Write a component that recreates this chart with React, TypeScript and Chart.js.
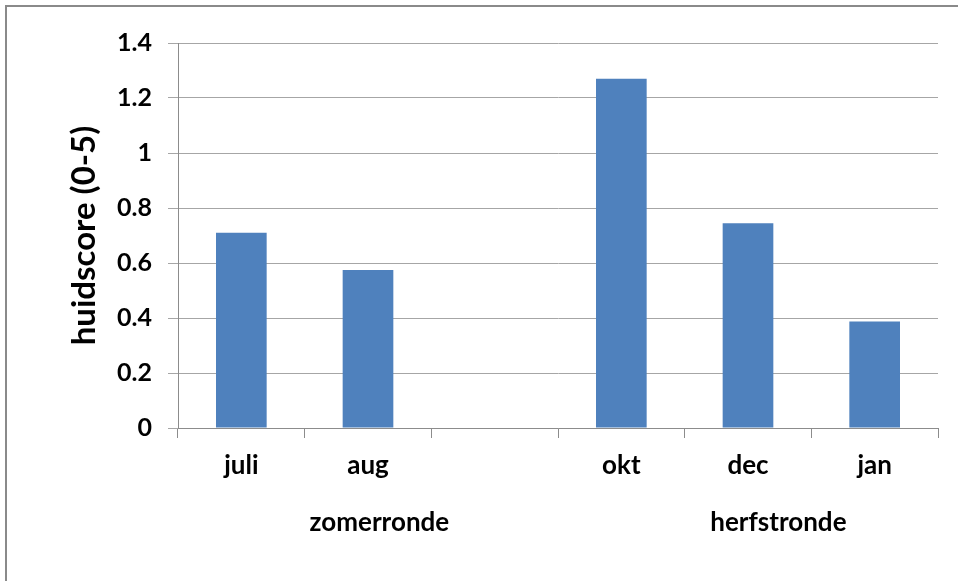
import React, { useEffect, useRef } from "react";
import { Chart, registerables } from "chart.js";

Chart.register(...registerables);

const categories = ["juli", "aug", "", "okt", "dec", "jan"];
const huidscore = [0.71, 0.575, null, 1.27, 0.745, 0.387];
const groupLabels = ["zomerronde", "herfstronde"];
const yTitle = "huidscore (0-5)";
const yMin = 0;
const yMax = 1.4;
const yStep = 0.2;

const FONT = "Lato, 'Open Sans', sans-serif";

export default function App() {
  const ref = useRef<HTMLCanvasElement>(null);

  useEffect(() => {
    document.body.style.margin = "0";
    const canvas = ref.current;
    if (!canvas) return;

    const groupPos = [1.09, 4.24];

    const framePlugin = {
      id: "frame",
      beforeDraw(chart: any) {
        const ctx = chart.ctx;
        ctx.save();
        ctx.strokeStyle = "#8a8a8a";
        ctx.lineWidth = 2;
        ctx.beginPath();
        ctx.moveTo(6, chart.height);
        ctx.lineTo(6, 6);
        ctx.lineTo(chart.width, 6);
        ctx.stroke();
        ctx.restore();
      },
    };

    const groupPlugin = {
      id: "groups",
      afterDraw(chart: any) {
        const ctx = chart.ctx;
        const xs = chart.scales.x;
        ctx.save();
        ctx.font = `bold 26px ${FONT}`;
        ctx.fillStyle = "#000";
        ctx.textAlign = "center";
        ctx.textBaseline = "middle";
        groupLabels.forEach((g, i) => {
          ctx.fillText(g, xs.getPixelForValue(groupPos[i]), 523);
        });
        ctx.restore();
      },
    };

    const chart = new Chart(canvas, {
      type: "bar",
      data: {
        labels: categories,
        datasets: [
          {
            data: huidscore as any,
            backgroundColor: "#4f81bd",
            borderWidth: 0,
            barPercentage: 0.4,
            categoryPercentage: 1,
          },
        ],
      },
      options: {
        responsive: false,
        animation: false,
        layout: { padding: { top: 43, right: 20, left: 0, bottom: 0 } },
        plugins: {
          legend: { display: false },
          tooltip: { enabled: false },
        },
        scales: {
          x: {
            afterFit(scale: any) {
              scale.height = 153;
            },
            grid: {
              display: true,
              drawOnChartArea: false,
              drawTicks: true,
              tickLength: 10,
              color: "#8c8c8c",
              offset: true,
            },
            border: { display: true, color: "#8c8c8c", width: 1 },
            ticks: {
              color: "#000",
              font: { family: FONT, size: 26, weight: "bold" },
              padding: 12,
              maxRotation: 0,
              autoSkip: false,
            },
          },
          y: {
            min: yMin,
            max: yMax,
            afterFit(scale: any) {
              scale.width = 178;
            },
            grid: {
              color: "#a6a6a6",
              drawTicks: true,
              tickLength: 10,
            },
            border: { display: true, color: "#8c8c8c", width: 1 },
            ticks: {
              stepSize: yStep,
              color: "#000",
              font: { family: FONT, size: 25, weight: "bold" },
              padding: 16,
              callback: (v: any) => String(Number(Number(v).toFixed(1))),
            },
            title: {
              display: true,
              text: yTitle,
              color: "#000",
              font: { family: FONT, size: 33, weight: "bold" },
              padding: { top: 65, bottom: 0 },
            },
          },
        },
      },
      plugins: [framePlugin, groupPlugin],
    });

    return () => chart.destroy();
  }, []);

  return (
    <div style={{ width: 958, height: 581, position: "relative" }}>
      <canvas ref={ref} width={958} height={581} style={{ display: "block" }} />
    </div>
  );
}
